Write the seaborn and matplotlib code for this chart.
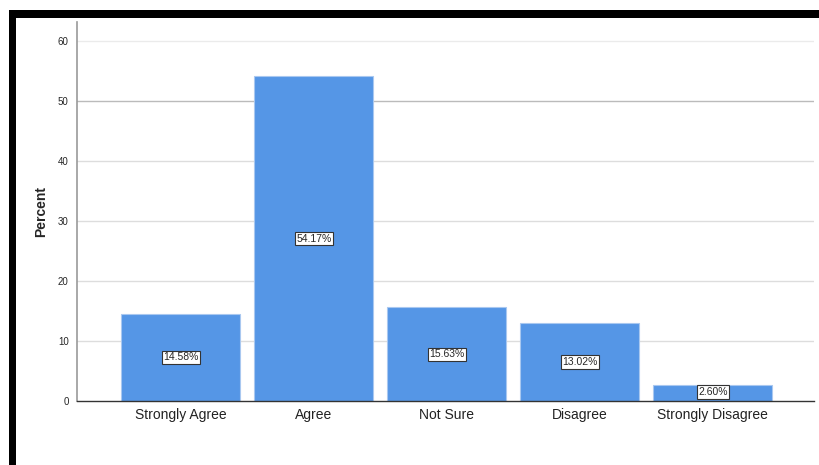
import matplotlib
matplotlib.use("Agg")
import matplotlib.pyplot as plt
import seaborn as sns
import pandas as pd
from matplotlib.patches import Rectangle

categories = ["Strongly Agree", "Agree", "Not Sure", "Disagree", "Strongly Disagree"]
percents = [14.58, 54.17, 15.63, 13.02, 2.60]
labels = ["14.58%", "54.17%", "15.63%", "13.02%", "2.60%"]
yticks = [0, 10, 20, 30, 40, 50, 60]

df = pd.DataFrame({"cat": categories, "pct": percents})

sns.set_theme(style="white")
plt.rcParams['font.family'] = ['Liberation Sans', 'DejaVu Sans']

fig = plt.figure(figsize=(8.19, 4.65), dpi=100)
ax = fig.add_axes([77/819, 1 - 401/465, (814 - 77)/819, (401 - 22)/465])

sns.barplot(data=df, x="cat", y="pct", ax=ax, color="#5596E6", saturation=1,
            width=0.895, edgecolor="#A9C8F0", linewidth=0.8, zorder=3)

ax.set_ylim(0, 63.2)
ax.set_xlim(-0.78, 4.76)
ax.set_yticks(yticks)
ax.set_yticklabels([str(t) for t in yticks], fontsize=7)
ax.tick_params(axis='y', length=0, pad=6)
ax.tick_params(axis='x', length=0, pad=5, labelsize=10, labelcolor="#222222")
for t in yticks[1:]:
    if t == 50:
        col = "#BBBBBB"
    elif t == 60:
        col = "#EBEBEB"
    else:
        col = "#DDDDDD"
    ax.axhline(t, color=col, linewidth=1.0, zorder=1)

for s in ["top", "right"]:
    ax.spines[s].set_visible(False)
ax.spines["left"].set_color("#999999")
ax.spines["left"].set_linewidth(1.2)
ax.spines["bottom"].set_color("#333333")
ax.spines["bottom"].set_linewidth(1.0)
ax.spines["bottom"].set_zorder(4)

ax.set_xlabel("")
ax.set_ylabel("Percent", fontsize=10, fontweight="bold", labelpad=7)

for i, (p, lab) in enumerate(zip(percents, labels)):
    ax.text(i, p / 2 if p > 5 else p / 2 + 0.2, lab, ha="center", va="center", fontsize=7.5,
            zorder=5,
            bbox=dict(boxstyle="square,pad=0.15", facecolor="white", edgecolor="#333333", linewidth=0.8))

# black frame (top and left)
fig.patches.append(Rectangle((9/819, 1 - 18/465), 1 - 9/819, 8/465, transform=fig.transFigure,
                             facecolor="black", edgecolor="none", zorder=10))
fig.patches.append(Rectangle((9/819, 0), 7/819, 1 - 10/465, transform=fig.transFigure,
                             facecolor="black", edgecolor="none", zorder=10))

fig.savefig("out.png", dpi=100)
